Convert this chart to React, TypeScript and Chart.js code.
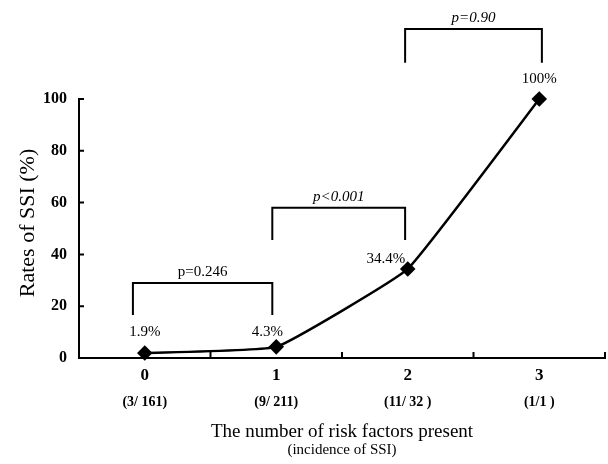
import { useEffect, useRef } from 'react';
import { Chart, registerables } from 'chart.js';

Chart.register(...registerables);

const riskFactors = [0, 1, 2, 3];
const ssiRates = [1.9, 4.3, 34.4, 100];
const rateLabels = ['1.9%', '4.3%', '34.4%', '100%'];
const incidence = ['(3/ 161)', '(9/ 211)', '(11/ 32 )', '(1/1 )'];
const yTickValues = [0, 20, 40, 60, 80, 100];
const xTickMarks = [0.5, 1.5, 2.5, 3.5];
const pLabels = ['p=0.246', 'p<0.001', 'p=0.90'];
const pItalic = [false, true, true];
const bracketFrom = [-0.09, 0.97, 1.98];
const bracketTo = [0.97, 1.98, 3.02];
const bracketTop = [29, 58, 127];
const bracketLegBottom = [16.6, 45.6, 114];

const SERIF = '"Liberation Serif", "DejaVu Serif", serif';
const labelDx = [0, -9, -22, 0];
const labelDy = [-21, -15, -10, -20];

const overlay = {
  id: 'overlay',
  afterDraw(chart: any) {
    const { ctx, scales } = chart;
    const xs = scales.x;
    const ys = scales.y;
    const area = chart.chartArea;
    ctx.save();
    ctx.strokeStyle = '#000';
    ctx.fillStyle = '#000';
    ctx.lineWidth = 2;
    // inward tick marks
    ctx.beginPath();
    for (const v of yTickValues) {
      if (v === 0) continue;
      const y = ys.getPixelForValue(v);
      ctx.moveTo(area.left, y);
      ctx.lineTo(area.left + 5, y);
    }
    for (const v of xTickMarks) {
      const x = xs.getPixelForValue(v);
      ctx.moveTo(x, area.bottom);
      ctx.lineTo(x, area.bottom - 6);
    }
    ctx.stroke();

    ctx.textAlign = 'center';
    ctx.textBaseline = 'middle';

    // x category labels
    ctx.font = `bold 17px ${SERIF}`;
    riskFactors.forEach((v) => {
      ctx.fillText(String(v), xs.getPixelForValue(v), area.bottom + 18);
    });

    // point value labels
    ctx.font = `15px ${SERIF}`;
    riskFactors.forEach((v, i) => {
      const x = xs.getPixelForValue(v) + labelDx[i];
      const y = ys.getPixelForValue(ssiRates[i]) + labelDy[i];
      ctx.fillText(rateLabels[i], x, y);
    });

    // incidence row
    ctx.font = `bold 14px ${SERIF}`;
    riskFactors.forEach((v, i) => {
      ctx.fillText(incidence[i], xs.getPixelForValue(v), area.bottom + 44);
    });

    // brackets
    ctx.lineWidth = 2;
    pLabels.forEach((lab, i) => {
      const x1 = xs.getPixelForValue(bracketFrom[i]);
      const x2 = xs.getPixelForValue(bracketTo[i]);
      const yt = ys.getPixelForValue(bracketTop[i]);
      const yb = ys.getPixelForValue(bracketLegBottom[i]);
      ctx.beginPath();
      ctx.moveTo(x1, yb);
      ctx.lineTo(x1, yt);
      ctx.lineTo(x2, yt);
      ctx.lineTo(x2, yb);
      ctx.stroke();
      ctx.font = `${pItalic[i] ? 'italic ' : ''}15px ${SERIF}`;
      ctx.fillText(lab, (x1 + x2) / 2, yt - 11);
    });

    // axis titles
    ctx.font = `19px ${SERIF}`;
    ctx.fillText('The number of risk factors present', (area.left + area.right) / 2, 432);
    ctx.font = `15px ${SERIF}`;
    ctx.fillText('(incidence of SSI)', (area.left + area.right) / 2, 450);

    ctx.translate(28, 223);
    ctx.rotate(-Math.PI / 2);
    ctx.font = `22px ${SERIF}`;
    ctx.fillText('Rates of SSI (%)', 0, 0);
    ctx.restore();
  },
};

export default function App() {
  const ref = useRef<HTMLCanvasElement>(null);
  useEffect(() => {
    if (!ref.current) return;
    const chart = new Chart(ref.current, {
      type: 'line',
      data: {
        datasets: [
          {
            data: riskFactors.map((x, i) => ({ x, y: ssiRates[i] })),
            borderColor: '#000',
            backgroundColor: '#000',
            borderWidth: 2.5,
            pointStyle: 'rectRot',
            pointRadius: 6,
            pointBackgroundColor: '#000',
            pointBorderColor: '#000',
            tension: 0.1,
            clip: false as any,
          },
        ],
      },
      options: {
        responsive: false,
        animation: false,
        layout: { autoPadding: false, padding: { top: 99, right: 3, left: 0, bottom: 0 } },
        plugins: { legend: { display: false }, tooltip: { enabled: false } },
        scales: {
          x: {
            type: 'linear',
            min: -0.5,
            max: 3.5,
            grid: { display: false, drawTicks: false },
            border: { display: true, color: '#000', width: 2 },
            afterFit: (s: any) => {
              s.height = 106;
            },
            ticks: { display: false },
          },
          y: {
            min: 0,
            max: 100,
            grid: { display: false, drawTicks: false },
            border: { display: true, color: '#000', width: 2 },
            afterBuildTicks: (s: any) => {
              s.ticks = yTickValues.map((v) => ({ value: v }));
            },
            afterFit: (s: any) => {
              s.width = 79;
            },
            ticks: {
              color: '#000',
              padding: 12,
              font: { family: SERIF, size: 16, weight: 'bold' },
            },
          },
        },
      },
      plugins: [overlay],
    });
    return () => chart.destroy();
  }, []);
  return (
    <div style={{ position: 'absolute', left: 0, top: 0, width: 608, height: 464, background: '#fff' }}>
      <canvas ref={ref} width={608} height={464} />
    </div>
  );
}
